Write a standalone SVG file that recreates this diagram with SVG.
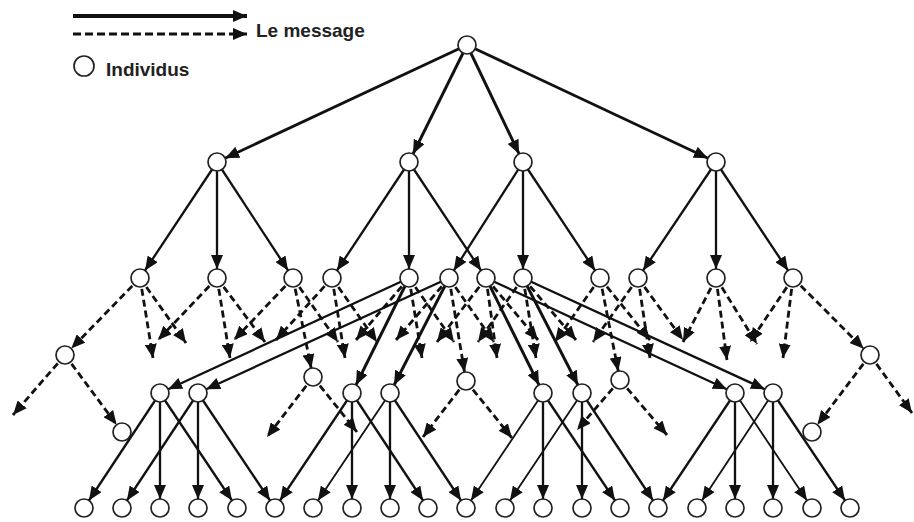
<svg xmlns="http://www.w3.org/2000/svg" width="914" height="522" viewBox="0 0 914 522">
<style>
.n{fill:#fff;stroke:#222;stroke-width:1.7}
.s{fill:none;stroke:#111;stroke-width:2.3;marker-end:url(#an)}
.r{fill:none;stroke:#111;stroke-width:2.9;marker-end:url(#an)}
.t{fill:none;stroke:#111;stroke-width:1.8;marker-end:url(#an)}
.d{fill:none;stroke:#111;stroke-width:2.8;stroke-dasharray:7 4;marker-end:url(#a)}
.dn{fill:none;stroke:#111;stroke-width:2.8;stroke-dasharray:7 4;marker-end:url(#an)}
.lbl{font-family:"Liberation Sans",Arial,sans-serif;font-weight:bold;font-size:19px;fill:#222}
</style>
<defs>
<marker id="a" markerUnits="userSpaceOnUse" markerWidth="15" markerHeight="12" refX="14" refY="6" orient="auto"><path d="M0,0 L14,6 L0,12 z" fill="#111"/></marker>
<marker id="an" markerUnits="userSpaceOnUse" markerWidth="15" markerHeight="12" refX="23" refY="6" orient="auto"><path d="M0,0 L14,6 L0,12 z" fill="#111"/></marker>
</defs>
<rect width="914" height="522" fill="#fff"/>
<g id="legend">
<line x1="73" y1="16" x2="247" y2="16" stroke="#111" stroke-width="4" marker-end="url(#a)"/>
<line x1="73" y1="34" x2="247" y2="34" stroke="#111" stroke-width="3" stroke-dasharray="8 4" marker-end="url(#a)"/>
<text class="lbl" x="256" y="37">Le message</text>
<circle class="n" cx="84" cy="66" r="10"/>
<text class="lbl" x="106" y="76">Individus</text>
</g>
<g id="connectors">
<line class="r" x1="467" y1="45" x2="217" y2="162"/>
<line class="r" x1="467" y1="45" x2="409" y2="162"/>
<line class="r" x1="467" y1="45" x2="523" y2="162" stroke-width="3.4"/>
<line class="r" x1="467" y1="45" x2="716" y2="162"/>
<line class="s" x1="217" y1="162" x2="140" y2="278"/>
<line class="s" x1="217" y1="162" x2="217" y2="278"/>
<line class="s" x1="217" y1="162" x2="293" y2="278"/>
<line class="s" x1="409" y1="162" x2="332" y2="278"/>
<line class="s" x1="409" y1="162" x2="409" y2="278"/>
<line class="s" x1="409" y1="162" x2="486" y2="278"/>
<line class="s" x1="523" y1="162" x2="449" y2="278"/>
<line class="s" x1="523" y1="162" x2="523" y2="278"/>
<line class="s" x1="523" y1="162" x2="600" y2="278"/>
<line class="s" x1="716" y1="162" x2="638" y2="278"/>
<line class="s" x1="716" y1="162" x2="716" y2="278"/>
<line class="s" x1="716" y1="162" x2="793" y2="278"/>
<line class="s" x1="409" y1="278" x2="160" y2="393"/>
<line class="s" x1="449" y1="278" x2="198" y2="393"/>
<line class="s" x1="486" y1="278" x2="735" y2="393"/>
<line class="s" x1="523" y1="278" x2="773" y2="393"/>
<line class="r" x1="409" y1="278" x2="352" y2="393"/>
<line class="r" x1="449" y1="278" x2="390" y2="393"/>
<line class="r" x1="486" y1="278" x2="543" y2="393"/>
<line class="r" x1="523" y1="278" x2="582" y2="393"/>
<line class="s" x1="160" y1="393" x2="84" y2="508"/>
<line class="s" x1="160" y1="393" x2="160" y2="508"/>
<line class="s" x1="160" y1="393" x2="237" y2="508"/>
<line class="s" x1="198" y1="393" x2="122" y2="508"/>
<line class="s" x1="198" y1="393" x2="198" y2="508"/>
<line class="s" x1="198" y1="393" x2="275" y2="508"/>
<line class="s" x1="352" y1="393" x2="275" y2="508"/>
<line class="s" x1="352" y1="393" x2="352" y2="508"/>
<line class="s" x1="352" y1="393" x2="428" y2="508"/>
<line class="t" x1="390" y1="393" x2="313" y2="508"/>
<line class="s" x1="390" y1="393" x2="390" y2="508"/>
<line class="s" x1="390" y1="393" x2="466" y2="508"/>
<line class="t" x1="543" y1="393" x2="466" y2="508"/>
<line class="s" x1="543" y1="393" x2="543" y2="508"/>
<line class="s" x1="543" y1="393" x2="620" y2="508"/>
<line class="t" x1="582" y1="393" x2="505" y2="508"/>
<line class="s" x1="582" y1="393" x2="582" y2="508"/>
<line class="s" x1="582" y1="393" x2="658" y2="508"/>
<line class="s" x1="735" y1="393" x2="658" y2="508"/>
<line class="s" x1="735" y1="393" x2="735" y2="508"/>
<line class="t" x1="735" y1="393" x2="812" y2="508"/>
<line class="t" x1="773" y1="393" x2="697" y2="508"/>
<line class="s" x1="773" y1="393" x2="773" y2="508"/>
<line class="s" x1="773" y1="393" x2="850" y2="508"/>
<line class="dn" x1="140" y1="278" x2="65" y2="355"/>
<line class="d" x1="140" y1="278" x2="153" y2="358"/>
<line class="d" x1="140" y1="278" x2="186" y2="343"/>
<line class="d" x1="217" y1="278" x2="158" y2="340"/>
<line class="d" x1="217" y1="278" x2="230" y2="358"/>
<line class="d" x1="217" y1="278" x2="265" y2="342"/>
<line class="d" x1="293" y1="278" x2="234" y2="340"/>
<line class="dn" x1="293" y1="278" x2="313" y2="377"/>
<line class="d" x1="293" y1="278" x2="338" y2="342"/>
<line class="d" x1="332" y1="278" x2="276" y2="340"/>
<line class="d" x1="332" y1="278" x2="345" y2="358"/>
<line class="d" x1="332" y1="278" x2="377" y2="342"/>
<line class="d" x1="409" y1="278" x2="356" y2="340"/>
<line class="d" x1="409" y1="278" x2="422" y2="358"/>
<line class="d" x1="409" y1="278" x2="454" y2="342"/>
<line class="d" x1="449" y1="278" x2="396" y2="340"/>
<line class="dn" x1="449" y1="278" x2="466" y2="381"/>
<line class="d" x1="449" y1="278" x2="494" y2="342"/>
<line class="d" x1="486" y1="278" x2="437" y2="342"/>
<line class="d" x1="486" y1="278" x2="497" y2="358"/>
<line class="d" x1="486" y1="278" x2="538" y2="340"/>
<line class="d" x1="523" y1="278" x2="478" y2="342"/>
<line class="d" x1="523" y1="278" x2="536" y2="358"/>
<line class="d" x1="523" y1="278" x2="576" y2="340"/>
<line class="d" x1="600" y1="278" x2="555" y2="342"/>
<line class="dn" x1="600" y1="278" x2="620" y2="380"/>
<line class="d" x1="600" y1="278" x2="650" y2="340"/>
<line class="d" x1="638" y1="278" x2="593" y2="342"/>
<line class="d" x1="638" y1="278" x2="650" y2="358"/>
<line class="d" x1="638" y1="278" x2="683" y2="340"/>
<line class="d" x1="716" y1="278" x2="683" y2="342"/>
<line class="d" x1="716" y1="278" x2="727" y2="360"/>
<line class="d" x1="716" y1="278" x2="757" y2="344"/>
<line class="d" x1="793" y1="278" x2="750" y2="342"/>
<line class="d" x1="793" y1="278" x2="783" y2="358"/>
<line class="dn" x1="793" y1="278" x2="870" y2="355"/>
<line class="d" x1="65" y1="355" x2="13" y2="415"/>
<line class="dn" x1="65" y1="355" x2="122" y2="432"/>
<line class="d" x1="313" y1="377" x2="267" y2="437"/>
<line class="d" x1="313" y1="377" x2="357" y2="432"/>
<line class="d" x1="466" y1="381" x2="423" y2="437"/>
<line class="d" x1="466" y1="381" x2="512" y2="438"/>
<line class="d" x1="620" y1="380" x2="577" y2="430"/>
<line class="d" x1="620" y1="380" x2="667" y2="435"/>
<line class="dn" x1="870" y1="355" x2="812" y2="432"/>
<line class="d" x1="870" y1="355" x2="912" y2="413"/>
</g>
<g id="n-root"><circle class="n" cx="467" cy="45" r="9"/></g>
<g id="n-1a"><circle class="n" cx="217" cy="162" r="9"/></g>
<g id="n-1b"><circle class="n" cx="409" cy="162" r="9"/></g>
<g id="n-1c"><circle class="n" cx="523" cy="162" r="9"/></g>
<g id="n-1d"><circle class="n" cx="716" cy="162" r="9"/></g>
<g id="n-2-140"><circle class="n" cx="140" cy="278" r="9"/></g>
<g id="n-2-217"><circle class="n" cx="217" cy="278" r="9"/></g>
<g id="n-2-293"><circle class="n" cx="293" cy="278" r="9"/></g>
<g id="n-2-332"><circle class="n" cx="332" cy="278" r="9"/></g>
<g id="n-2-409"><circle class="n" cx="409" cy="278" r="9"/></g>
<g id="n-2-449"><circle class="n" cx="449" cy="278" r="9"/></g>
<g id="n-2-486"><circle class="n" cx="486" cy="278" r="9"/></g>
<g id="n-2-523"><circle class="n" cx="523" cy="278" r="9"/></g>
<g id="n-2-600"><circle class="n" cx="600" cy="278" r="9"/></g>
<g id="n-2-638"><circle class="n" cx="638" cy="278" r="9"/></g>
<g id="n-2-716"><circle class="n" cx="716" cy="278" r="9"/></g>
<g id="n-2-793"><circle class="n" cx="793" cy="278" r="9"/></g>
<g id="n-x-65"><circle class="n" cx="65" cy="355" r="9"/></g>
<g id="n-x-313"><circle class="n" cx="313" cy="377" r="9"/></g>
<g id="n-x-466"><circle class="n" cx="466" cy="381" r="9"/></g>
<g id="n-x-620"><circle class="n" cx="620" cy="380" r="9"/></g>
<g id="n-x-870"><circle class="n" cx="870" cy="355" r="9"/></g>
<g id="n-x-122"><circle class="n" cx="122" cy="432" r="9"/></g>
<g id="n-x-812"><circle class="n" cx="812" cy="432" r="9"/></g>
<g id="n-3-160"><circle class="n" cx="160" cy="393" r="9"/></g>
<g id="n-3-198"><circle class="n" cx="198" cy="393" r="9"/></g>
<g id="n-3-352"><circle class="n" cx="352" cy="393" r="9"/></g>
<g id="n-3-390"><circle class="n" cx="390" cy="393" r="9"/></g>
<g id="n-3-543"><circle class="n" cx="543" cy="393" r="9"/></g>
<g id="n-3-582"><circle class="n" cx="582" cy="393" r="9"/></g>
<g id="n-3-735"><circle class="n" cx="735" cy="393" r="9"/></g>
<g id="n-3-773"><circle class="n" cx="773" cy="393" r="9"/></g>
<g id="n-4-84"><circle class="n" cx="84" cy="508" r="9"/></g>
<g id="n-4-122"><circle class="n" cx="122" cy="508" r="9"/></g>
<g id="n-4-160"><circle class="n" cx="160" cy="508" r="9"/></g>
<g id="n-4-198"><circle class="n" cx="198" cy="508" r="9"/></g>
<g id="n-4-237"><circle class="n" cx="237" cy="508" r="9"/></g>
<g id="n-4-275"><circle class="n" cx="275" cy="508" r="9"/></g>
<g id="n-4-313"><circle class="n" cx="313" cy="508" r="9"/></g>
<g id="n-4-352"><circle class="n" cx="352" cy="508" r="9"/></g>
<g id="n-4-390"><circle class="n" cx="390" cy="508" r="9"/></g>
<g id="n-4-428"><circle class="n" cx="428" cy="508" r="9"/></g>
<g id="n-4-466"><circle class="n" cx="466" cy="508" r="9"/></g>
<g id="n-4-505"><circle class="n" cx="505" cy="508" r="9"/></g>
<g id="n-4-543"><circle class="n" cx="543" cy="508" r="9"/></g>
<g id="n-4-582"><circle class="n" cx="582" cy="508" r="9"/></g>
<g id="n-4-620"><circle class="n" cx="620" cy="508" r="9"/></g>
<g id="n-4-658"><circle class="n" cx="658" cy="508" r="9"/></g>
<g id="n-4-697"><circle class="n" cx="697" cy="508" r="9"/></g>
<g id="n-4-735"><circle class="n" cx="735" cy="508" r="9"/></g>
<g id="n-4-773"><circle class="n" cx="773" cy="508" r="9"/></g>
<g id="n-4-812"><circle class="n" cx="812" cy="508" r="9"/></g>
<g id="n-4-850"><circle class="n" cx="850" cy="508" r="9"/></g>
</svg>
